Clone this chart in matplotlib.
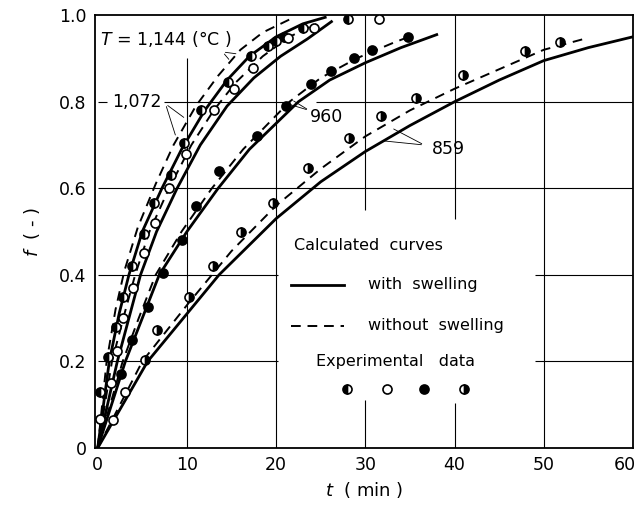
import matplotlib.pyplot as plt
from matplotlib.transforms import ScaledTranslation

# ---------------------------------------------------------------------------
# DATA

# calculated curves, with swelling (solid) / without swelling (dashed)
t_1144_sw = [0, 1.3, 2.4, 3.5, 5.0, 7.2, 9.4, 12.0, 14.5, 17.0, 20.0, 23.0, 25.5]
f_1144_sw = [0, 0.20, 0.31, 0.40, 0.50, 0.60, 0.69, 0.78, 0.85, 0.905, 0.95, 0.98, 0.995]
t_1144_ns = [0, 1.0, 2.0, 3.0, 4.5, 6.5, 8.5, 11.0, 13.5, 16.0, 18.5, 21.5]
f_1144_ns = [0, 0.20, 0.32, 0.41, 0.51, 0.61, 0.70, 0.79, 0.86, 0.92, 0.96, 0.99]

t_1072_sw = [0, 2.2, 3.5, 4.8, 6.6, 8.9, 11.5, 14.5, 17.5, 20.5, 23.5, 26.2]
f_1072_sw = [0, 0.20, 0.30, 0.40, 0.50, 0.60, 0.70, 0.79, 0.855, 0.905, 0.945, 0.985]
t_1072_ns = [0, 1.6, 3.0, 4.2, 5.8, 8.0, 10.5, 13.0, 15.5, 18.5, 21.5, 24.5]
f_1072_ns = [0, 0.20, 0.31, 0.40, 0.50, 0.60, 0.70, 0.78, 0.845, 0.905, 0.95, 0.98]

t_960_sw = [0, 3.1, 5.0, 6.9, 10.0, 13.5, 17.0, 22.5, 26.0, 30.0, 34.0, 38.0]
f_960_sw = [0, 0.20, 0.30, 0.40, 0.50, 0.60, 0.69, 0.80, 0.85, 0.89, 0.925, 0.955]
t_960_ns = [0, 2.8, 4.6, 6.5, 9.4, 12.8, 16.3, 21.5, 25.0, 29.0, 33.0, 35.5]
f_960_ns = [0, 0.20, 0.30, 0.40, 0.50, 0.60, 0.69, 0.80, 0.855, 0.90, 0.935, 0.955]

t_859_sw = [0, 5.6, 10, 13.6, 20, 25, 30, 35, 40, 45, 50, 55, 60]
f_859_sw = [0, 0.20, 0.31, 0.40, 0.53, 0.615, 0.685, 0.745, 0.80, 0.85, 0.895, 0.925, 0.95]
t_859_ns = [0, 5, 10, 15, 20, 25, 30, 35, 40, 45, 50, 54.5]
f_859_ns = [0, 0.20, 0.33, 0.455, 0.56, 0.645, 0.72, 0.78, 0.83, 0.875, 0.92, 0.945]

# experimental data
t_1144 = [0.3, 1.2, 2.0, 2.8, 3.8, 5.2, 6.3, 8.2, 9.7, 11.6, 14.6, 17.2, 19.1, 20.0, 20.9, 23.0, 28.0]
f_1144 = [0.13, 0.21, 0.28, 0.35, 0.42, 0.495, 0.565, 0.63, 0.705, 0.78, 0.845, 0.905, 0.928, 0.94, 0.95, 0.97, 0.99]

t_1072 = [0.3, 1.5, 1.7, 2.2, 2.8, 3.1, 4.0, 5.2, 6.4, 8.0, 9.9, 13.0, 15.3, 17.4, 21.3, 24.3, 31.5]
f_1072 = [0.067, 0.15, 0.065, 0.225, 0.30, 0.13, 0.37, 0.45, 0.52, 0.60, 0.68, 0.78, 0.83, 0.877, 0.947, 0.97, 0.99]

t_960 = [2.6, 3.9, 5.6, 7.3, 9.4, 11.0, 13.6, 17.9, 21.1, 23.9, 26.2, 28.7, 30.7, 34.8]
f_960 = [0.17, 0.25, 0.325, 0.405, 0.48, 0.56, 0.64, 0.72, 0.79, 0.84, 0.87, 0.90, 0.92, 0.95]

t_859 = [5.3, 6.7, 10.2, 12.9, 16.1, 19.7, 23.6, 28.2, 31.8, 35.7, 41.0, 47.9, 51.8]
f_859 = [0.204, 0.273, 0.35, 0.42, 0.50, 0.567, 0.648, 0.717, 0.766, 0.808, 0.861, 0.917, 0.937]

x_ticks = [0, 10, 20, 30, 40, 50, 60]
y_ticks = [0, 0.2, 0.4, 0.6, 0.8, 1.0]
y_ticklabels = ["0", "0.2", "0.4", "0.6", "0.8", "1.0"]
#-------------------------------------------------------------------------------

plt.rcParams['font.family'] = ['DejaVu Sans']

fig = plt.figure(figsize=(6.39, 5.19), dpi=100)
ax = fig.add_axes([0.1487, 0.1368, 0.8419, 0.834])

# broken grid lines like in the printed figure
k = dict(color="black", linewidth=0.8, zorder=1)
ax.vlines(10, 0, 0.9, **k)
ax.vlines(20, 0, 1.0, **k)
ax.vlines(30, 0, 0.11, **k)
ax.vlines(30, 0.55, 1.0, **k)
ax.vlines(40, 0, 0.105, **k)
ax.vlines(40, 0.53, 1.0, **k)
ax.vlines(50, 0, 1.0, **k)
ax.hlines(0.2, 0, 20.2, **k)
ax.hlines(0.2, 49, 60, **k)
ax.hlines(0.4, 0, 20.2, **k)
ax.hlines(0.4, 49, 60, **k)
ax.hlines(0.6, 0, 60, **k)
ax.hlines(0.8, 0, 1.0, **k)
ax.hlines(0.8, 7.4, 21.5, **k)
ax.hlines(0.8, 24.5, 60, **k)

sw = dict(color="black", linewidth=2.0, zorder=2)
ns = dict(color="black", linewidth=1.4, dashes=(5, 3.5), zorder=2)
for t, f in [(t_1144_sw, f_1144_sw), (t_1072_sw, f_1072_sw),
             (t_960_sw, f_960_sw), (t_859_sw, f_859_sw)]:
    ax.plot(t, f, **sw)
for t, f in [(t_1144_ns, f_1144_ns), (t_1072_ns, f_1072_ns),
             (t_960_ns, f_960_ns), (t_859_ns, f_859_ns)]:
    ax.plot(t, f, **ns)

mk = dict(linestyle="none", marker="o", markersize=6.5, markeredgewidth=1.2,
          markeredgecolor="black", zorder=3)
ax.plot(t_1144, f_1144, fillstyle="left", markerfacecolor="black",
        markerfacecoloralt="white", **mk)
ax.plot(t_1072, f_1072, markerfacecolor="white", **mk)
ax.plot(t_960, f_960, markerfacecolor="black", **mk)
ax.plot(t_859, f_859, fillstyle="right", markerfacecolor="black",
        markerfacecoloralt="white", **mk)

# curve labels
fs = 12.5
ax.text(0.3, 0.945, r"$T$ = 1,144 (°C )", fontsize=fs, va="center", ha="left")
for tip in [(15.8, 0.91), (14.9, 0.893)]:
    ax.annotate("", xy=tip, xytext=(14.0, 0.915),
                arrowprops=dict(arrowstyle="-", color="black", lw=0.6))
ax.text(1.6, 0.80, "1,072", fontsize=fs, va="center", ha="left")
for tip in [(9.9, 0.76), (8.8, 0.717)]:
    ax.annotate("", xy=tip, xytext=(7.6, 0.795),
                arrowprops=dict(arrowstyle="-", color="black", lw=0.6))
ax.text(23.8, 0.765, "960", fontsize=fs, va="center", ha="left")
for tip in [(21.3, 0.795), (21.7, 0.805)]:
    ax.annotate("", xy=tip, xytext=(23.7, 0.78),
                arrowprops=dict(arrowstyle="-", color="black", lw=0.6))
ax.text(37.5, 0.69, "859", fontsize=fs, va="center", ha="left")
for tip in [(32.9, 0.74), (31.8, 0.71)]:
    ax.annotate("", xy=tip, xytext=(36.6, 0.70),
                arrowprops=dict(arrowstyle="-", color="black", lw=0.6))

# hand-drawn legend
lf = 11.5
ax.text(22.0, 0.467, "Calculated  curves", fontsize=lf, va="center", ha="left")
ax.plot([21.7, 27.6], [0.377, 0.377], **sw)
ax.text(30.3, 0.377, "with  swelling", fontsize=lf, va="center", ha="left")
ax.plot([21.7, 27.6], [0.282, 0.282], **ns)
ax.text(30.3, 0.282, "without  swelling", fontsize=lf, va="center", ha="left")
ax.text(24.5, 0.20, "Experimental   data", fontsize=lf, va="center", ha="left")
ax.plot([27.9], [0.137], fillstyle="left", markerfacecolor="black",
        markerfacecoloralt="white", **mk)
ax.plot([32.4], [0.137], markerfacecolor="white", **mk)
ax.plot([36.6], [0.137], markerfacecolor="black", **mk)
ax.plot([41.1], [0.137], fillstyle="right", markerfacecolor="black",
        markerfacecoloralt="white", **mk)

ax.set_xlim(-0.3, 60)
ax.set_ylim(0, 1.0)
ax.set_xticks(x_ticks)
ax.set_yticks(y_ticks)
ax.set_yticklabels(y_ticklabels)
ax.tick_params(length=0, labelsize=12.5, pad=6)
# last x label sits at the very edge of the page; pull it in a little
lbl = ax.get_xticklabels()[-1]
lbl.set_transform(lbl.get_transform() + ScaledTranslation(-6 / 72, 0, fig.dpi_scale_trans))
for s in ax.spines.values():
    s.set_linewidth(1.3)
ax.set_xlabel(r"$t$  ( min )", fontsize=13)
ax.set_ylabel(r"$f$  ( - )", fontsize=13, labelpad=12)

plt.savefig("out.png", dpi=100)
